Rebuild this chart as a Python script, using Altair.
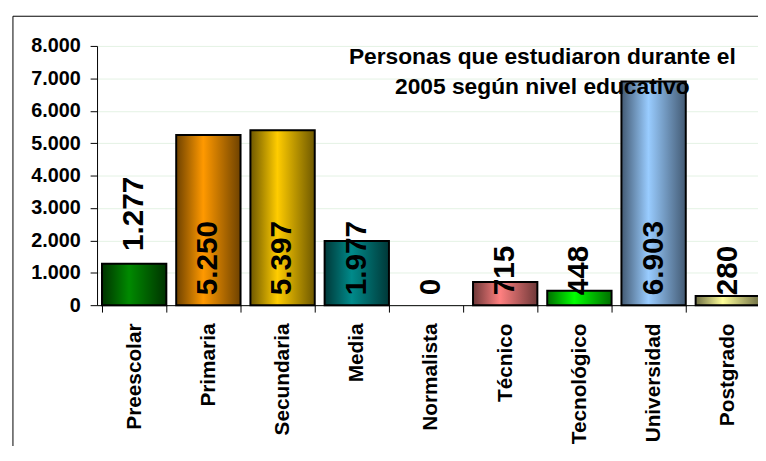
import altair as alt
import pandas as pd

niveles = ["Preescolar", "Primaria", "Secundaria", "Media", "Normalista",
           "Técnico", "Tecnológico", "Universidad", "Postgrado"]
personas = [1277, 5250, 5397, 1977, 0, 715, 448, 6903, 280]
color_centro = ["#008a00", "#ff9900", "#ffcc00", "#008a8a", "#ffffff",
                "#ff8080", "#00ff00", "#99ccff", "#ffff99"]
color_borde = ["#003300", "#6e4200", "#6e5800", "#003838", "#ffffff",
               "#6e3838", "#006e00", "#435a73", "#6e6e44"]
etiqueta_fuera = ["Preescolar"]
titulo = ["Personas que estudiaron durante el", "2005 según nivel educativo"]
y_ticks = [0, 1000, 2000, 3000, 4000, 5000, 6000, 7000, 8000]

FONT = "Liberation Sans, Arial, sans-serif"

df = pd.DataFrame({"nivel": niveles, "personas": personas})


def grad(edge, center):
    return {
        "gradient": "linear", "x1": 0, "y1": 0, "x2": 1, "y2": 0,
        "stops": [
            {"offset": 0, "color": edge},
            {"offset": 0.42, "color": center},
            {"offset": 1, "color": edge},
        ],
    }


fill_def = {
    "condition": [
        {"test": f"datum.nivel === '{n}'", "value": grad(b, c)}
        for n, b, c in zip(niveles, color_borde, color_centro)
    ],
    "value": "#999999",
}

x_scale = alt.Scale(range=[0, 675], paddingInner=0.133, paddingOuter=0.0667)
x_axis = alt.Axis(labelAngle=270, labelAlign="right", labelBaseline="middle",
                  labelFont=FONT, labelFontSize=21, labelFontWeight="bold",
                  labelColor="black", tickBand="extent", tickSize=7,
                  tickColor="black", domainColor="black", labelPadding=11,
                  grid=False, labelOverlap=False, title=None)
y_scale = alt.Scale(domain=[0, 8000], nice=False)
y_axis = alt.Axis(values=y_ticks, labelFont=FONT, labelFontSize=20,
                  labelFontWeight="bold", labelColor="black",
                  labelExpr="replace(format(datum.value, ','), ',', '.')",
                  tickSize=7, tickColor="black", domainColor="black",
                  labelPadding=10, grid=True, gridColor="#e4f2e4",
                  labelOverlap=False, labelBound=False, title=None)


def X():
    return alt.X("nivel:N", sort=niveles, title=None, scale=x_scale, axis=x_axis)


def Y(field):
    return alt.Y(field, title=None, scale=y_scale, axis=y_axis)


base = alt.Chart(df)

bars = base.mark_bar(stroke="black", strokeWidth=2).transform_filter(
    "datum.personas > 0"
).encode(x=X(), y=Y("personas:Q"), fill=fill_def)

label_expr = "replace(format(datum.personas, ','), ',', '.')"

labels_base = base.transform_filter(
    f"indexof({etiqueta_fuera!r}, datum.nivel) < 0"
).transform_calculate(
    etiqueta=label_expr, cero="0"
).mark_text(angle=270, align="left", baseline="middle", font=FONT,
            fontSize=30, fontWeight="bold", color="black", dx=10).encode(
    x=X(), y=Y("cero:Q"), text="etiqueta:N",
)

labels_out = base.transform_filter(
    f"indexof({etiqueta_fuera!r}, datum.nivel) >= 0"
).transform_calculate(
    etiqueta=label_expr
).mark_text(angle=270, align="left", baseline="middle", font=FONT,
            fontSize=30, fontWeight="bold", color="black", dx=13).encode(
    x=X(), y=Y("personas:Q"), text="etiqueta:N",
)

one = alt.Chart(pd.DataFrame({"a": [0]}))

title_mark = one.mark_text(font=FONT, fontSize=23, fontWeight="bold",
                           color="black", align="center",
                           baseline="alphabetic", lineHeight=31).encode(
    x=alt.value(450), y=alt.value(18), text=alt.value(titulo)
)

frame_left = one.mark_rule(color="black", strokeWidth=1).encode(
    x=alt.value(-85), y=alt.value(-30), y2=alt.value(600)
)
frame_top = one.mark_rule(color="black", strokeWidth=1).encode(
    x=alt.value(-85), x2=alt.value(800), y=alt.value(-30)
)

chart = alt.layer(
    bars, labels_base, labels_out, title_mark, frame_left, frame_top
).properties(
    width=668, height=262,
    autosize=alt.AutoSizeParams(type="none"),
    padding={"left": 90, "top": 36, "right": 0, "bottom": 140},
    background="white",
).configure_view(stroke=None)

chart.save("out.html", embed_options={"renderer": "svg", "actions": False})
